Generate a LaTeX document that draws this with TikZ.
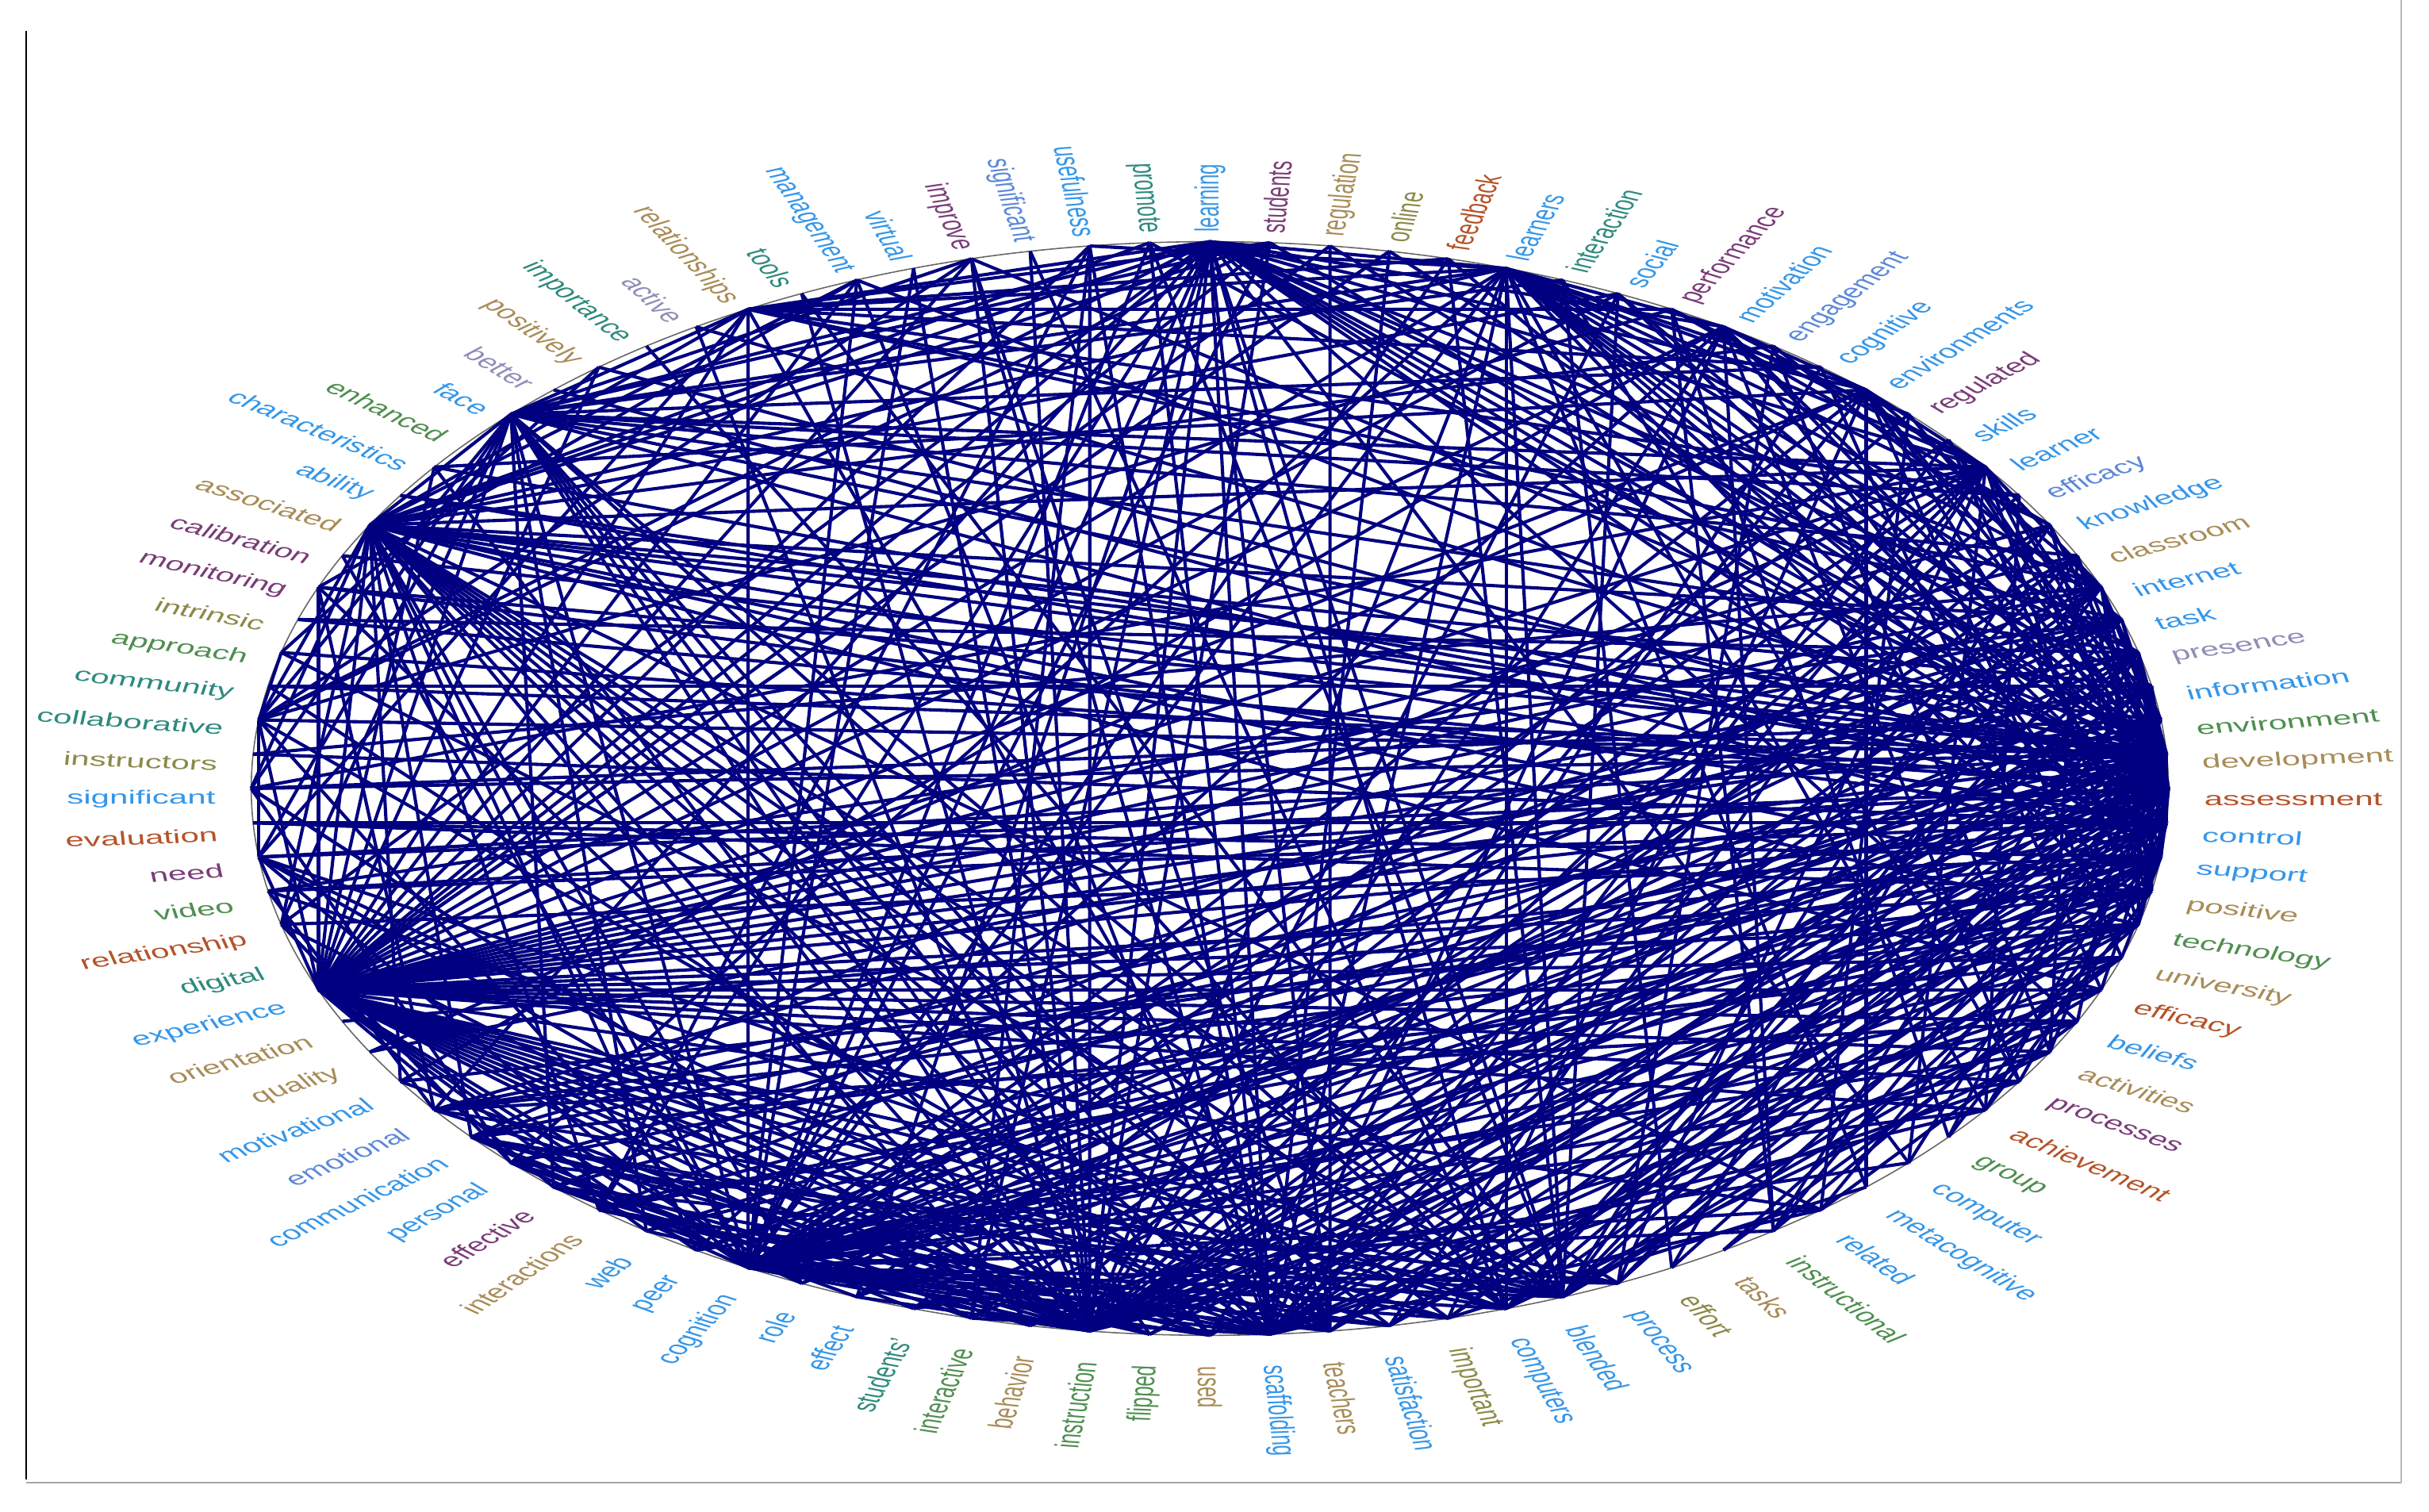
\documentclass[tikz,border=0pt]{standalone}
\usepackage{fontspec}
\setmainfont{Liberation Sans}
\definecolor{cblue}{HTML}{3596E8}
\definecolor{cpurple}{HTML}{7A3C78}
\definecolor{ctan}{HTML}{A88C58}
\definecolor{colive}{HTML}{8A8A48}
\definecolor{cbrown}{HTML}{B4532A}
\definecolor{cteal}{HTML}{2E8A7E}
\definecolor{cgreen}{HTML}{4F8E50}
\definecolor{clav}{HTML}{8E8EB6}
\definecolor{csteel}{HTML}{5C88D8}
\definecolor{edgeblue}{HTML}{000080}
\begin{document}
\begin{tikzpicture}[x=1pt,y=1pt,
  edge/.style={draw=edgeblue, line width=2.1pt},
  lbl/.style={inner sep=0pt, transform shape, font=\fontsize{12.3}{14}\selectfont},
  rim/.style={draw=gray!80!black, line width=0.8pt},
  frameline/.style={line width=1.2pt}
]
\useasboundingbox (0,0) rectangle (1568,976);
\draw[frameline] (17,956) -- (17,21);
\draw[frameline, gray!70] (17,19) -- (1550,19);
\draw[frameline, gray!55] (1550,19) -- (1550,976);
\begin{scope}[shift={(781,467)}, xscale=1.753]
  \draw[rim] (0,0) circle (353);
  \foreach \i in {1,...,100} {
    \coordinate (n\i) at ({90-(\i-1)*3.6}:353);
  }
  % edges: hub / list of targets
  \foreach \h/\ts in {
    1/{6,10,13,16,20,22,23,25,26,27,28,29,33,38,45,46,49,50,53,55,57,59,62,66,70,72,78,84,88,93},
    6/{10,13,14,16,18,20,22,24,25,26,27,28,30,36,39,45,46,50,53,59,64,70,84,88,93,99},
    16/{9,10,13,20,24,25,27,30,38,44,48,50,53,56,59,65,70,76,84,88},
    10/{13,25,26,29,35,41,50,53,60,67,70},
    13/{20,25,26,28,31,39,47,53,59,68,70,86},
    25/{20,21,22,27,30,34,38,41,45,46,48,50,52,55,58,59,61,63,66,70,74,78,82,84,88},
    26/{19,21,23,28,32,36,40,44,47,49,51,53,57,60,62,65,70,73,80,85},
    27/{20,22,30,35,43,47,50,53,56,59,64,70,75,84,89},
    28/{19,23,31,37,42,46,49,52,54,59,61,66,69,72,88},
    23/{29,33,45,50,53,59,68,70,79,84},
    22/{30,41,46,49,53,58,65,70,81,88},
    20/{24,29,45,50,53,57,63,70,77,93},
    29/{36,45,48,53,59,62,67,70,75,84},
    49/{3,59,63,70,78,84,88,93,97},
    50/{55,59,62,65,70,74,84,88,95,97,99},
    53/{57,59,61,64,67,70,72,76,82,84,88,92,96,99},
    46/{59,65,70,73,84,88,91,98},
    45/{59,63,66,70,74,80,84,88,94,100},
    59/{64,70,74,78,84,88,93,96,100},
    70/{74,78,82,84,86,88,90,93,95,97,99,2,4},
    84/{72,76,78,88,93,95,100,2,8,11},
    88/{72,74,76,78,93,97,2,7,12,17},
    93/{2,5,9,12,17,21,74},
    78/{74,80,97,2,9},
    99/{55,62},
    98/{53},
    7/{35,43},
    9/{18,37,41},
    11/{21,34,44},
    12/{32,51},
    14/{24,40,57},
    17/{36,54},
    19/{34,43,55,50,59,70,88},
    24/{37,44,51,60,53,59,64,70,76,84},
    21/{46,53,59,62,66,70,73,84},
    30/{41,59,66,48,53,62,70,84},
    31/{42,70,45,50,59,65},
    32/{45,53,59,70,84},
    33/{40,50,59,66,70},
    34/{46,53,60,70},
    18/{25,29,45,53,59,70},
    35/{50,59,70},
    36/{53,59,70},
    40/{50,59,70,84},
    44/{70,59,64,84},
    47/{59,65,70,84},
    48/{59,62,70,84},
    51/{59,65,70,84,88},
    52/{62,66,70,88},
    54/{63,70,84},
    55/{64,70},
    58/{65,70,84},
    60/{70,84},
    61/{70,88},
    63/{70,88},
    65/{84},
    67/{84},
    8/{25,27,45,53,70},
    15/{25,26,29,50,59},
    2/{26,53,59},
    4/{25,50,70},
    5/{28,45,59},
    3/{25,70},
    100/{26,50},
    97/{25,53},
    95/{26,59},
    94/{53},
    92/{25},
    90/{26},
    86/{26,53},
    85/{25},
    83/{25,59},
    82/{27},
    81/{26},
    79/{25,50},
    77/{27},
    76/{25,53},
    75/{28},
    74/{26,53},
    73/{27},
    38/{56},
    39/{47},
    41/{59},
    56/{65},
    57/{63},
    62/{84},
    64/{72,76},
    66/{73,82},
    80/{90},
    82/{95}} {
    \foreach \t in \ts {
      \draw[edge] (n\h) -- (n\t);
    }
  }
  % labels
  \foreach \i/\w/\c in {
    1/learning/cblue, 2/students/cpurple, 3/regulation/ctan, 4/online/colive,
    5/feedback/cbrown, 6/learners/cblue, 7/interaction/cteal, 8/social/cblue,
    9/performance/cpurple, 10/motivation/cblue, 11/engagement/csteel, 12/cognitive/cblue,
    13/environments/cblue, 14/regulated/cpurple, 15/skills/cblue, 16/learner/cblue,
    17/efficacy/csteel, 18/knowledge/cblue, 19/classroom/ctan, 20/internet/cblue,
    21/task/cblue, 22/presence/clav, 23/information/cblue, 24/environment/cgreen,
    25/development/ctan, 26/assessment/cbrown, 27/control/cblue, 28/support/cblue,
    29/positive/ctan, 30/technology/cgreen, 31/university/ctan, 32/efficacy/cbrown,
    33/beliefs/cblue, 34/activities/ctan, 35/processes/cpurple, 36/achievement/cbrown,
    37/group/cgreen, 38/computer/cblue, 39/metacognitive/cblue, 40/related/cblue,
    41/instructional/cgreen, 42/tasks/ctan, 43/effort/colive, 44/process/cblue,
    45/blended/cblue, 46/computers/cblue, 47/important/colive, 48/satisfaction/cblue,
    49/teachers/ctan, 50/scaffolding/cblue, 51/used/ctan, 52/flipped/cgreen,
    53/instruction/cgreen, 54/behavior/ctan, 55/interactive/cgreen, 56/students'/cteal,
    57/effect/cblue, 58/role/cblue, 59/cognition/cblue, 60/peer/cblue,
    61/web/cblue, 62/interactions/ctan, 63/effective/cpurple, 64/personal/cblue,
    65/communication/cblue, 66/emotional/csteel, 67/motivational/cblue, 68/quality/ctan,
    69/orientation/ctan, 70/experience/cblue, 71/digital/cteal, 72/relationship/cbrown,
    73/video/cgreen, 74/need/cpurple, 75/evaluation/cbrown, 76/significant/cblue,
    77/instructors/colive, 78/collaborative/cteal, 79/community/cteal, 80/approach/cgreen,
    81/intrinsic/colive, 82/monitoring/cpurple, 83/calibration/cpurple, 84/associated/ctan,
    85/ability/cblue, 86/characteristics/cblue, 87/enhanced/cgreen, 88/face/cblue,
    89/better/clav, 90/positively/ctan, 91/importance/cteal, 92/active/clav,
    93/relationships/ctan, 94/tools/cteal, 95/management/cblue, 96/virtual/cblue,
    97/improve/cpurple, 98/significant/csteel, 99/usefulness/cblue, 100/promote/cteal} {
    \pgfmathsetmacro\ang{90-(\i-1)*3.6}
    \pgfmathsetmacro\lx{366*cos(\ang)}
    \pgfmathsetmacro\ly{366*sin(\ang)-7}
    \ifnum\i<52
      \node[lbl, text=\c, rotate=\ang, anchor=west] (l\i) at (\lx,\ly) {\w};
    \else
      \pgfmathsetmacro\angb{\ang+180}
      \node[lbl, text=\c, rotate=\angb, anchor=east] (l\i) at (\lx,\ly) {\w};
    \fi
  }
\end{scope}
\end{tikzpicture}
\end{document}
